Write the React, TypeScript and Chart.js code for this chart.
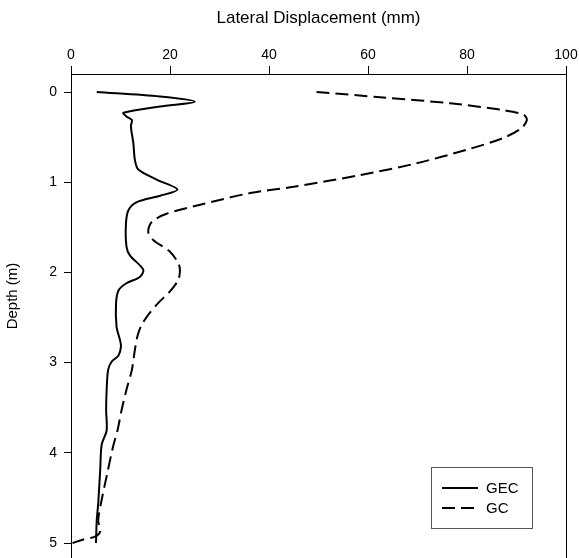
import React, { useEffect, useRef } from "react";
import { Chart, registerables } from "chart.js";

Chart.register(...registerables);

const X_TITLE = "Lateral Displacement (mm)";
const Y_TITLE = "Depth (m)";
const X_TICKS = [0, 20, 40, 60, 80, 100];
const Y_TICKS = [0, 1, 2, 3, 4, 5];
const SERIES_NAMES = ["GEC", "GC"];

const gecDepth = [0, 0.05, 0.107, 0.16, 0.23, 0.27, 0.31, 0.38, 0.57, 0.75, 0.86, 0.97, 1.08, 1.15, 1.22, 1.31, 1.46, 1.71, 1.81, 1.97, 2.05, 2.12, 2.2, 2.34, 2.6, 2.75, 2.82, 2.92, 2.99, 3.08, 3.3, 3.53, 3.75, 3.91, 4.19, 4.56, 4.75, 5.0];
const gecDisp = [5.2, 18.0, 25.0, 18.0, 10.6, 11.2, 12.3, 12.1, 12.6, 12.9, 13.6, 17.3, 21.5, 18.0, 13.3, 11.6, 11.1, 11.2, 11.9, 14.6, 13.9, 11.2, 9.6, 9.1, 9.2, 9.9, 10.1, 9.6, 8.2, 7.5, 7.2, 7.1, 7.2, 6.2, 5.9, 5.5, 5.2, 5.05];

const gcDepth = [0, 0.06, 0.125, 0.2, 0.25, 0.31, 0.4, 0.51, 0.64, 0.79, 0.92, 1.05, 1.12, 1.25, 1.35, 1.44, 1.55, 1.64, 1.77, 1.9, 1.97, 2.08, 2.21, 2.34, 2.47, 2.58, 2.69, 2.86, 3.08, 3.3, 3.53, 3.75, 3.93, 4.26, 4.52, 4.75, 4.87, 4.93, 4.96, 5.0];
const gcDisp = [49.6, 63.1, 76.6, 87.3, 91.4, 92.1, 91.0, 87.3, 79.9, 69.8, 58.5, 45.0, 36.2, 26.1, 19.3, 16.3, 15.6, 16.6, 20.0, 21.7, 22.0, 21.7, 20.0, 17.6, 15.6, 14.3, 13.5, 12.9, 12.3, 11.2, 10.2, 9.4, 8.5, 7.2, 6.2, 5.5, 5.9, 4.85, 2.5, 0.3];

const FONT = '"Liberation Sans", Arial, sans-serif';
const DASH = [13, 6];

const decor = {
  id: "decor",
  afterDraw(chart: any) {
    const { ctx, chartArea: a } = chart;
    ctx.save();
    ctx.strokeStyle = "#000";
    ctx.lineWidth = 1;
    ctx.beginPath();
    ctx.moveTo(Math.round(a.right) + 0.5, a.top);
    ctx.lineTo(Math.round(a.right) + 0.5, a.bottom);
    ctx.stroke();

    ctx.fillStyle = "#000";
    ctx.textAlign = "center";
    ctx.textBaseline = "middle";
    ctx.font = `17px ${FONT}`;
    ctx.fillText(X_TITLE, (a.left + a.right) / 2, 18);

    ctx.save();
    ctx.translate(13, 296);
    ctx.rotate(-Math.PI / 2);
    ctx.font = `15px ${FONT}`;
    ctx.fillText(Y_TITLE, 0, 0);
    ctx.restore();

    // legend
    const lx = 431, ly = 467, lw = 101, lh = 61;
    ctx.strokeStyle = "#555";
    ctx.lineWidth = 1;
    ctx.strokeRect(lx + 0.5, ly + 0.5, lw, lh);
    ctx.strokeStyle = "#000";
    ctx.lineWidth = 2;
    ctx.setLineDash([]);
    ctx.beginPath();
    ctx.moveTo(442, 488);
    ctx.lineTo(478, 488);
    ctx.stroke();
    ctx.setLineDash(DASH);
    ctx.beginPath();
    ctx.moveTo(442, 508);
    ctx.lineTo(478, 508);
    ctx.stroke();
    ctx.setLineDash([]);
    ctx.textAlign = "left";
    ctx.font = `15px ${FONT}`;
    ctx.fillText(SERIES_NAMES[0], 486, 489);
    ctx.fillText(SERIES_NAMES[1], 486, 509);
    ctx.restore();
  },
};

export default function App() {
  const ref = useRef<HTMLCanvasElement>(null);
  useEffect(() => {
    if (!ref.current) return;
    const chart = new Chart(ref.current, {
      type: "scatter",
      data: {
        datasets: [
          {
            label: SERIES_NAMES[0],
            data: gecDepth.map((d, i) => ({ x: gecDisp[i], y: d })),
            showLine: true,
            borderColor: "#000",
            borderWidth: 2,
            pointRadius: 0,
            tension: 0.3,
          },
          {
            label: SERIES_NAMES[1],
            data: gcDepth.map((d, i) => ({ x: gcDisp[i], y: d })),
            showLine: true,
            borderColor: "#000",
            borderWidth: 2,
            borderDash: DASH,
            pointRadius: 0,
            tension: 0.3,
          },
        ],
      },
      options: {
        responsive: false,
        animation: false,
        layout: { padding: { left: 0, right: 13, top: 0, bottom: 0 } },
        plugins: { legend: { display: false }, tooltip: { enabled: false } },
        scales: {
          x: {
            type: "linear",
            position: "top",
            min: 0,
            max: 100,
            afterFit: (s: any) => { s.height = 74; s.paddingLeft = 0; s.paddingRight = 0; },
            afterBuildTicks: (s: any) => { s.ticks = X_TICKS.map((v) => ({ value: v })); },
            ticks: { color: "#000", font: { family: FONT, size: 14 }, padding: 2, maxRotation: 0, autoSkip: false },
            grid: { drawOnChartArea: false, drawTicks: true, tickLength: 8, tickColor: "#000", tickWidth: 1 },
            border: { display: true, color: "#000", width: 1 },
          },
          y: {
            type: "linear",
            reverse: true,
            min: -0.2,
            max: 5.166,
            afterFit: (s: any) => { s.width = 71; s.paddingTop = 0; s.paddingBottom = 0; },
            afterBuildTicks: (s: any) => { s.ticks = Y_TICKS.map((v) => ({ value: v })); },
            ticks: { color: "#000", font: { family: FONT, size: 14 }, padding: 7, autoSkip: false },
            grid: { drawOnChartArea: false, drawTicks: true, tickLength: 7, tickColor: "#000", tickWidth: 1 },
            border: { display: true, color: "#000", width: 1 },
          },
        },
      },
      plugins: [decor],
    });
    return () => chart.destroy();
  }, []);
  return (
    <div style={{ position: "absolute", left: 0, top: 0, width: 579, height: 558, background: "#fff" }}>
      <canvas ref={ref} width={579} height={558} style={{ display: "block" }} />
    </div>
  );
}
